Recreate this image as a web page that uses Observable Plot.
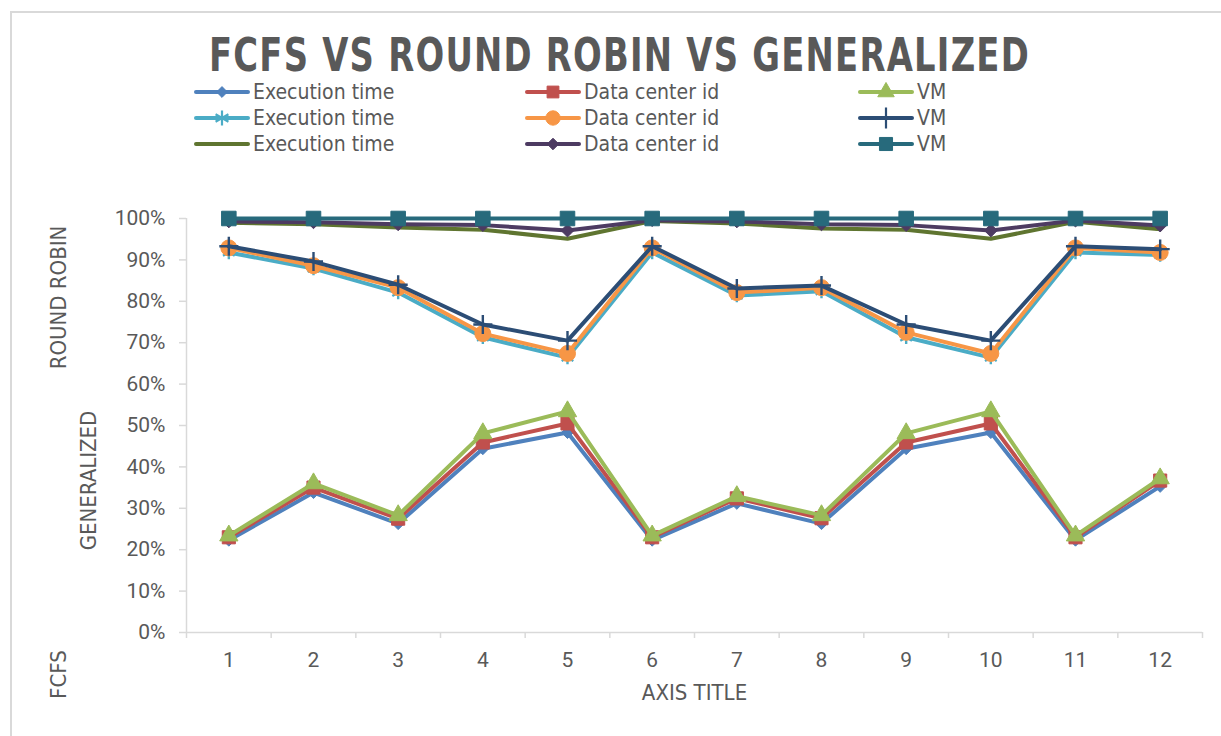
<!DOCTYPE html>
<html><head><meta charset="utf-8">
<script src="https://cdn.jsdelivr.net/npm/d3@7"></script>
<script src="https://cdn.jsdelivr.net/npm/@observablehq/plot@0.6"></script>
<style>
body{margin:0;width:1221px;height:736px;overflow:hidden;background:#fff;position:relative;font-family:"DejaVu Sans Condensed","Liberation Sans Narrow",sans-serif;color:#595959}
#frame{position:absolute;left:10px;top:11px;width:1300px;height:800px;border:2px solid #d9d9d9;box-sizing:border-box}
#title{position:absolute;left:0;top:29px;font-weight:bold;font-size:46px;letter-spacing:1.5px;line-height:52px;white-space:nowrap;transform-origin:0 50%}
.item{position:absolute;display:flex;align-items:center;height:26px;font-size:21px;white-space:nowrap}
.item svg{margin-right:3px}
#chart{position:absolute;left:0;top:170px}
</style></head><body>
<div id="frame"></div>
<div id="title">FCFS VS ROUND ROBIN VS GENERALIZED</div>
<div id="legend"></div>
<div id="chart"></div>
<script>
// ---- data (cumulative 100%-stacked values, in percent) ----
const categories = [1,2,3,4,5,6,7,8,9,10,11,12];
const seriesNames = ["Execution time","Data center id","VM","Execution time","Data center id","VM","Execution time","Data center id","VM"];
const execTime1 = [22.3, 33.8, 26.3, 44.4, 48.3, 22.3, 31.2, 26.3, 44.4, 48.3, 22.3, 35.3];
const dataCenter1 = [23.0, 35.0, 27.5, 45.9, 50.5, 23.0, 32.4, 27.6, 45.9, 50.5, 23.0, 36.7];
const vm1 = [23.4, 36.0, 28.3, 48.1, 53.4, 23.4, 32.9, 28.3, 48.1, 53.4, 23.4, 37.2];
const execTime2 = [91.8, 87.9, 82.1, 71.3, 66.4, 91.8, 81.4, 82.4, 71.3, 66.4, 91.8, 91.2];
const dataCenter2 = [92.9, 88.6, 83.3, 72.2, 67.4, 92.9, 82.1, 83.3, 72.5, 67.4, 92.9, 91.8];
const vm2 = [93.3, 89.6, 84.0, 74.4, 70.5, 93.3, 83.1, 83.8, 74.4, 70.5, 93.3, 92.6];
const execTime3 = [99.0, 98.6, 97.8, 97.3, 95.1, 99.4, 98.8, 97.6, 97.3, 95.1, 99.2, 97.4];
const dataCenter3 = [99.3, 99.1, 98.6, 98.4, 97.1, 99.6, 99.3, 98.6, 98.4, 97.1, 99.5, 98.3];
const vm3 = [100, 100, 100, 100, 100, 100, 100, 100, 100, 100, 100, 100];
const yTicks = [0, 0.1, 0.2, 0.3, 0.4, 0.5, 0.6, 0.7, 0.8, 0.9, 1.0];
const seriesValues = [execTime1, dataCenter1, vm1, execTime2, dataCenter2, vm2, execTime3, dataCenter3, vm3];
const seriesColors = ["#4F81BD","#C0504D","#9BBB59","#4BACC6","#F79646","#2C4D75","#5F7530","#4D3B62","#276A7C"];
const seriesSymbols = ["diamond2","square","triangle","asterisk","circle","plus",null,"diamond2","square"];
const seriesR = [5.4, 7.4, 6.8, 6.4, 8, 6.2, 0, 5.8, 8.2];

const strokeSymbols = new Set(["asterisk","plus"]);
const symbolMap = {diamond2: d3.symbolDiamond2, square: d3.symbolSquare, triangle: d3.symbolTriangle, asterisk: d3.symbolAsterisk, circle: d3.symbolCircle, plus: d3.symbolPlus};

// ---- title: fit to the reference width ----
const title = document.getElementById("title");
const tw = title.getBoundingClientRect().width;
const targetW = 821;
title.style.transform = `scaleX(${targetW / tw})`;
title.style.left = (619.5 - targetW / 2) + "px";

// ---- legend ----
const legend = document.getElementById("legend");
const colX = [194, 525, 858];
const rowY = [79, 105, 131];
seriesNames.forEach((name, i) => {
  const div = document.createElement("div");
  div.className = "item";
  div.style.left = colX[i % 3] + "px";
  div.style.top = rowY[Math.floor(i / 3)] + "px";
  const svg = d3.create("svg").attr("width", 56).attr("height", 26);
  svg.append("line").attr("x1", 2).attr("x2", 54).attr("y1", 13).attr("y2", 13)
    .attr("stroke", seriesColors[i]).attr("stroke-width", 4).attr("stroke-linecap", "round");
  const sym = seriesSymbols[i];
  if (sym) {
    const r = seriesR[i] * (strokeSymbols.has(sym) ? 1.1 : 0.9);
    const p = svg.append("path").attr("transform", "translate(28,13)")
      .attr("d", d3.symbol(symbolMap[sym], Math.PI * r * r)());
    if (strokeSymbols.has(sym)) p.attr("fill", "none").attr("stroke", seriesColors[i]).attr("stroke-width", 2.2);
    else p.attr("fill", seriesColors[i]).attr("stroke", seriesColors[i]).attr("stroke-width", 1);
  }
  div.appendChild(svg.node());
  const span = document.createElement("span");
  span.textContent = name;
  div.appendChild(span);
  legend.appendChild(div);
});

// ---- chart ----
const rows = seriesValues.flatMap((vals, i) => categories.map((c, j) => ({series: i, x: c, y: vals[j] / 100})));
const boundaries = categories.map(c => c - 0.5).concat([categories[categories.length - 1] + 0.5]);
const titleStyle = {text: d => d, rotate: -90, textAnchor: "middle", lineAnchor: "middle", fontSize: 22, fill: "#595959"};
const marks = [
  Plot.axisX({ticks: boundaries, tickSize: 6, tickFormat: () => "", stroke: "#d9d9d9", strokeWidth: 1.5, label: null}),
  Plot.axisX({ticks: categories, tickSize: 0, tickPadding: 20, fontSize: 21, fill: "#595959", fontFamily: "Roboto", label: null}),
  Plot.axisY({ticks: yTicks, tickSize: 7, tickPadding: 14, tickFormat: d3.format(".0%"), fontSize: 21, fill: "#595959", stroke: "#d9d9d9", strokeWidth: 1.5, fontFamily: "Roboto", label: null}),
  Plot.ruleX([categories[0] - 0.5], {y1: 0, y2: 1, stroke: "#d9d9d9", strokeWidth: 1.5}),
  Plot.ruleY([0], {stroke: "#d9d9d9", strokeWidth: 1.5}),
  Plot.text(["ROUND ROBIN"], {...titleStyle, frameAnchor: "top-left", dx: -128, dy: 79}),
  Plot.text(["GENERALIZED"], {...titleStyle, frameAnchor: "top-left", dx: -98, dy: 262}),
  Plot.text(["FCFS"], {...titleStyle, frameAnchor: "bottom-left", dx: -128, dy: 42}),
  Plot.text(["AXIS TITLE"], {text: d => d, frameAnchor: "bottom", dy: 67, fontSize: 22, fill: "#595959"})
];
seriesValues.forEach((vals, i) => {
  const data = rows.filter(d => d.series === i);
  marks.push(Plot.line(data, {x: "x", y: "y", stroke: seriesColors[i], strokeWidth: 4, strokeLinejoin: "round", strokeLinecap: "round"}));
  const sym = seriesSymbols[i];
  if (sym) {
    if (strokeSymbols.has(sym)) {
      marks.push(Plot.dot(data, {x: "x", y: "y", symbol: sym, r: seriesR[i], stroke: seriesColors[i], strokeWidth: 2.4, fill: "none"}));
    } else {
      marks.push(Plot.dot(data, {x: "x", y: "y", symbol: sym, r: seriesR[i], fill: seriesColors[i], stroke: seriesColors[i], strokeWidth: 1}));
    }
  }
});

const chart = Plot.plot({
  width: 1221,
  height: 566,
  marginLeft: 186,
  marginRight: 19,
  marginTop: 48,
  marginBottom: 104,
  style: {fontFamily: "'DejaVu Sans Condensed','Liberation Sans Narrow',sans-serif", color: "#595959", background: "transparent", overflow: "visible"},
  x: {domain: [0.5, 12.5], axis: null},
  y: {domain: [0, 1], axis: null},
  marks
});
document.getElementById("chart").appendChild(chart);
</script>
</body></html>
